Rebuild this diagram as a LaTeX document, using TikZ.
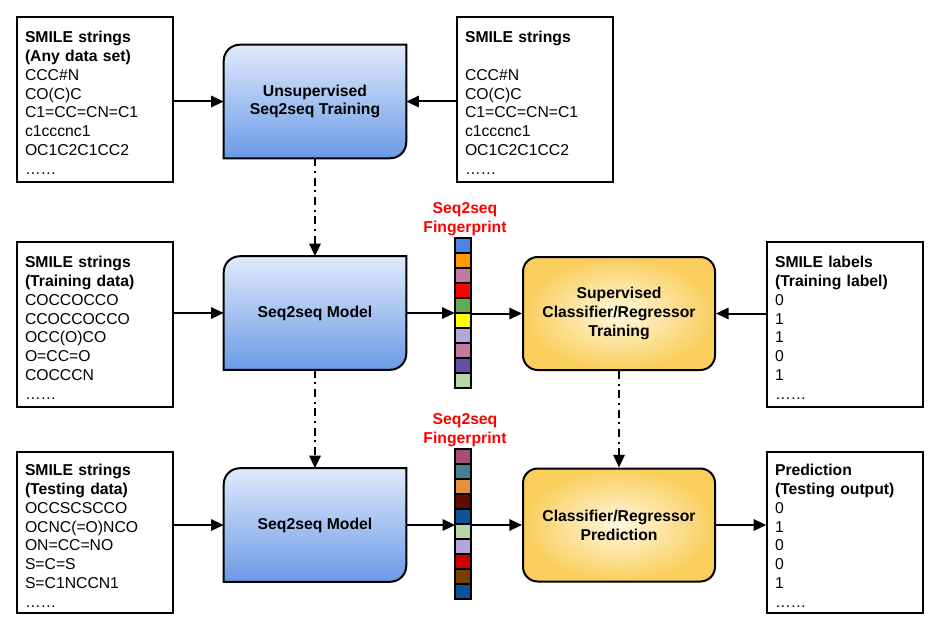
\documentclass[tikz,border=0pt]{standalone}
\usepackage{fontspec}
\setmainfont{Liberation Sans}
\usetikzlibrary{arrows.meta,backgrounds,calc}
\definecolor{btop}{RGB}{224,234,251}
\definecolor{bbot}{RGB}{106,154,230}
\definecolor{yinner}{RGB}{255,248,224}
\definecolor{youter}{RGB}{249,206,92}
\definecolor{fa1}{HTML}{4A86E8}
\definecolor{fa2}{HTML}{FF9900}
\definecolor{fa3}{HTML}{C27BA0}
\definecolor{fa4}{HTML}{FF0000}
\definecolor{fa5}{HTML}{6AA84F}
\definecolor{fa6}{HTML}{FFFF00}
\definecolor{fa7}{HTML}{B4A7D6}
\definecolor{fa8}{HTML}{C27BA0}
\definecolor{fa9}{HTML}{674EA7}
\definecolor{fa10}{HTML}{B6D7A8}
\definecolor{fb1}{HTML}{A64D79}
\definecolor{fb2}{HTML}{45818E}
\definecolor{fb3}{HTML}{E69138}
\definecolor{fb4}{HTML}{5B0F00}
\definecolor{fb5}{HTML}{0B5394}
\definecolor{fb6}{HTML}{B6D7A8}
\definecolor{fb7}{HTML}{B4A7D6}
\definecolor{fb8}{HTML}{CC0000}
\definecolor{fb9}{HTML}{783F04}
\definecolor{fb10}{HTML}{0B5394}
\newcommand{\blueshape}[1]{%
  \path[draw, line width=1.5pt, top color=btop, bottom color=bbot]
    (#1.south west) -- ([yshift=-12pt]#1.north west)
    arc[start angle=180,end angle=90,radius=12pt]
    -- (#1.north east) -- ([yshift=12pt]#1.south east)
    arc[start angle=0,end angle=-90,radius=12pt] -- cycle;}
\newcommand{\tp}{\rule{0pt}{13.5pt}}
\tikzset{
  txtbox/.style={draw, line width=1.1pt, rectangle, text width=105pt,
    inner xsep=6pt, inner ysep=0pt, minimum height=#1, align=left,
    font=\fontsize{11.8}{14.1}\selectfont},
  procbox/.style={rectangle, minimum width=136.5pt, minimum height=84.75pt,
    align=center, inner sep=0pt, font=\bfseries\fontsize{11.8}{14.2}\selectfont},
  ybox/.style={procbox, draw, line width=1.5pt, rounded corners=11pt,
    inner color=yinner, outer color=youter, minimum width=144pt},
  arr/.style={line width=1.5pt, -{Triangle[length=9.5pt,width=8.5pt]}},
  dd/.style={arr, dash pattern=on 6pt off 3.5pt on 1.5pt off 3.5pt},
  fplabel/.style={text=red, align=center, font=\bfseries\fontsize{11.8}{14.1}\selectfont},
  fpstrip/.style={rectangle, minimum width=12pt, minimum height=112.5pt, inner sep=0pt},
  cell/.style={draw, line width=1.5pt},
}
\begin{document}
\begin{tikzpicture}[x=0.75pt,y=0.75pt]
\useasboundingbox (0,0) rectangle (945,-638);
% text boxes
\node[txtbox=123.75pt] (t1) at (95,-99.5) {\tp\textbf{SMILE strings}\\\textbf{(Any data set)}\\CCC\#N\\CO(C)C\\C1=CC=CN=C1\\c1cccnc1\\OC1C2C1CC2\\……};
\node[txtbox=123.75pt] (t2) at (535,-99.5) {\tp\textbf{SMILE strings}\\[14.1pt]CCC\#N\\CO(C)C\\C1=CC=CN=C1\\c1cccnc1\\OC1C2C1CC2\\……};
\node[txtbox=123.75pt] (t3) at (95,-324.5) {\tp\textbf{SMILE strings}\\\textbf{(Training data)}\\COCCOCCO\\CCOCCOCCO\\OCC(O)CO\\O=CC=O\\COCCCN\\……};
\node[txtbox=123.75pt] (t5) at (845,-324.5) {\tp\textbf{SMILE labels}\\\textbf{(Training label)}\\0\\1\\1\\0\\1\\……};
\node[txtbox=120.75pt] (t4) at (95,-532.5) {\tp\textbf{SMILE strings}\\\textbf{(Testing data)}\\OCCSCSCCO\\OCNC(=O)NCO\\ON=CC=NO\\S=C=S\\S=C1NCCN1\\……};
\node[txtbox=120.75pt] (t6) at (845,-532.5) {\tp\textbf{Prediction}\\\textbf{(Testing output)}\\0\\1\\0\\0\\1\\……};
% blue process boxes
\node[procbox] (u) at (315,-101.5) {Unsupervised\\Seq2seq Training};
\node[procbox] (m1) at (315,-313) {Seq2seq Model};
\node[procbox] (m2) at (315,-525) {Seq2seq Model};
\begin{scope}[on background layer]
  \blueshape{u}
  \blueshape{m1}
  \blueshape{m2}
\end{scope}
% yellow boxes
\node[ybox] (y1) at (619,-313.5) {Supervised\\Classifier/Regressor\\Training};
\node[ybox] (y2) at (619,-525) {Classifier/Regressor\\Prediction};
% fingerprints
\node[fplabel] (l1) at (465,-219) {Seq2seq\\Fingerprint};
\node[fplabel] (l2) at (465,-430.5) {Seq2seq\\Fingerprint};
\node[fpstrip] (f1) at (463,-313) {};
\node[fpstrip] (f2) at (463.5,-524) {};
\foreach \c [count=\i from 0] in {fa1,fa2,fa3,fa4,fa5,fa6,fa7,fa8,fa9,fa10}
  \draw[cell, fill=\c] ([yshift=-\i*11.25pt]f1.north west) rectangle ++(12pt,-11.25pt);
\foreach \c [count=\i from 0] in {fb1,fb2,fb3,fb4,fb5,fb6,fb7,fb8,fb9,fb10}
  \draw[cell, fill=\c] ([yshift=-\i*11.25pt]f2.north west) rectangle ++(12pt,-11.25pt);
% connectors
\draw[arr] (t1.east |- u.west) -- (u.west);
\draw[arr] (t2.west |- u.east) -- (u.east);
\draw[arr] (t3.east |- m1.west) -- (m1.west);
\draw[arr] (m1.east) -- (f1.west |- m1.east);
\draw[arr] (f1.east |- y1.west) -- (y1.west);
\draw[arr] (t5.west |- y1.east) -- (y1.east);
\draw[arr] (t4.east |- m2.west) -- (m2.west);
\draw[arr] (m2.east) -- (f2.west |- m2.east);
\draw[arr] (f2.east |- y2.west) -- (y2.west);
\draw[arr] (y2.east) -- (t6.west |- y2.east);
\draw[dd] (u.south) -- (m1.north);
\draw[dd] (m1.south) -- (m2.north);
\draw[dd] (y1.south) -- (y2.north);
\end{tikzpicture}
\end{document}
